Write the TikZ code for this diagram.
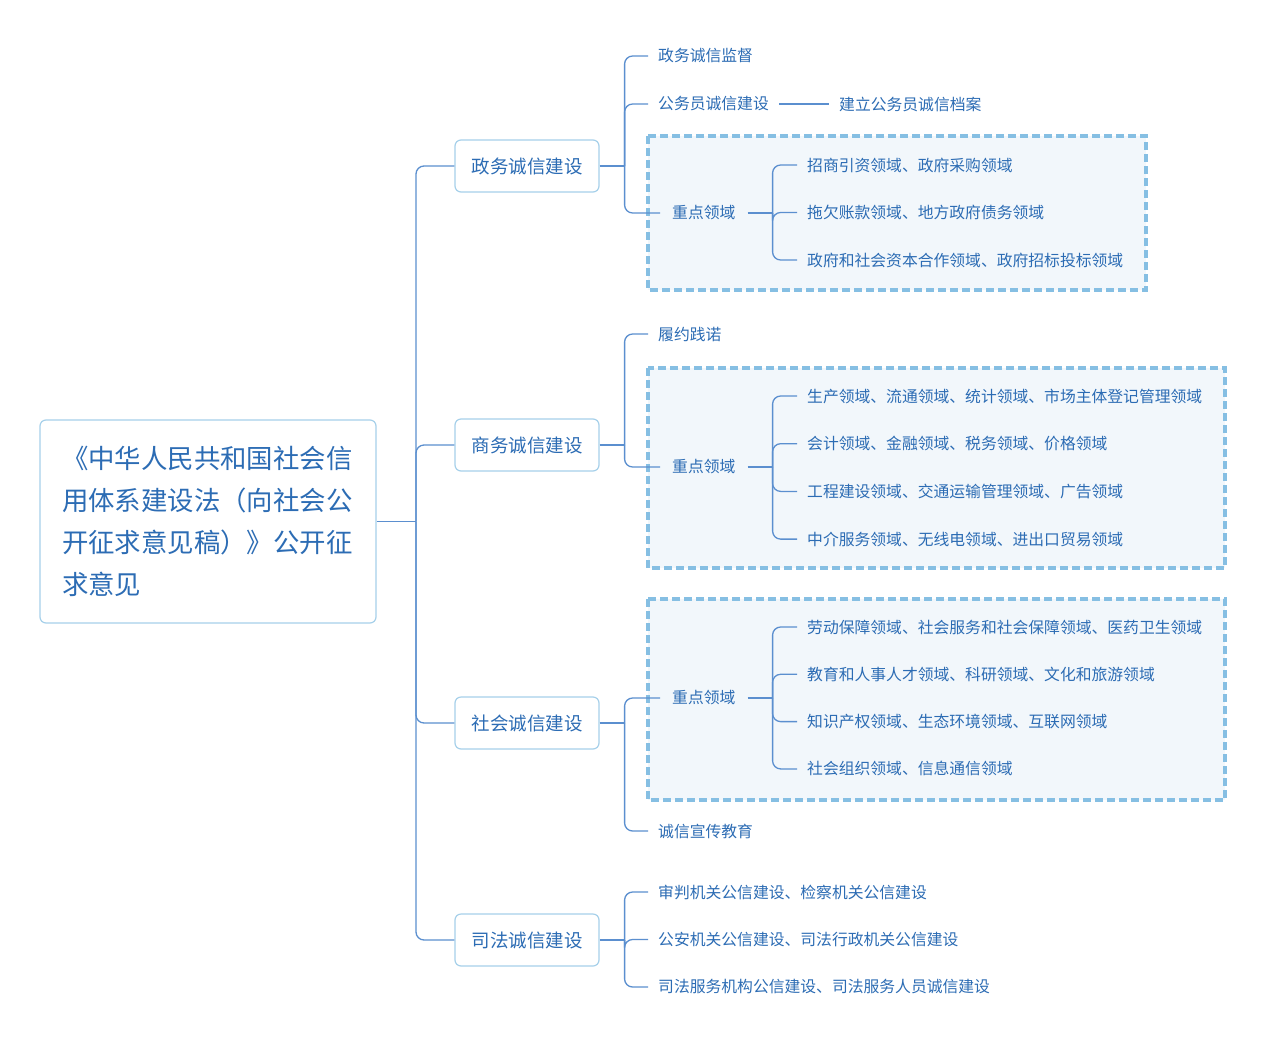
\documentclass[tikz,border=0pt]{standalone}
\usepackage{fontspec}
\setmainfont{Noto Sans CJK SC}
\usetikzlibrary{positioning}
\definecolor{ink}{HTML}{2C6CB4}
\definecolor{wire}{HTML}{5B8FCF}
\definecolor{frame}{HTML}{A6D0EA}
\definecolor{zonefill}{HTML}{F2F7FB}
\definecolor{zoneedge}{HTML}{86BFE3}

\begin{document}
\begin{tikzpicture}[
  x=1pt,y=-1pt,
  font=\fontsize{15.8}{18}\selectfont,text=ink,
  root/.style={draw=frame,line width=1.2pt,rounded corners=6pt,fill=white,minimum height=203pt,inner xsep=22pt,text width=292pt,align=left,font=\fontsize{26.4}{42}\selectfont},
  branch/.style={draw=frame,line width=1.2pt,rounded corners=6pt,fill=white,minimum width=144pt,minimum height=52pt,font=\fontsize{18.5}{20}\selectfont},
  leaf/.style={anchor=west,inner xsep=10pt,inner ysep=2pt},
  key/.style={anchor=west,inner xsep=12pt,inner ysep=2pt},
  link/.style={wire,line width=1.3pt,rounded corners=8pt},
  zone/.style={fill=zonefill,draw=zoneedge,dash pattern=on 8pt off 4pt}
]
\useasboundingbox[fill=white] (0,0) rectangle (1267,1045);

% dashed groups
\draw[zone,line width=3.2pt] (648,136) rectangle (1146,290);
\draw[zone,line width=3.2pt] (648,368) rectangle (1225,568);
\draw[zone,line width=3.2pt] (648,599) rectangle (1225,800);

% root and branches
\node[root] (root) at (208,521.5) {《中华人民共和国社会信\\用体系建设法（向社会公\\开征求意见稿）》公开征\\求意见};
\node[branch] (gov) at (527,166) {政务诚信建设};
\node[branch] (biz) at (527,445) {商务诚信建设};
\node[branch] (soc) at (527,723) {社会诚信建设};
\node[branch] (jud) at (527,940) {司法诚信建设};

\coordinate (hub) at (416,521.5);
\draw[link] (root.east) -- (hub);
\foreach \b in {gov,biz,soc,jud} {
  \coordinate (\b j) at ([xshift=25pt]\b.east);
  \draw[link] (hub) |- (\b.west);
  \draw[link] (\b.east) -- (\b j);
}

% gov
\node[leaf] (gov1) at (648,56) {政务诚信监督};
\node[leaf] (gov2) at (648,104) {公务员诚信建设};
\node[leaf,right=50pt of gov2] (gov2a) {建立公务员诚信档案};
\node[key] (govk) at (660,213) {重点领域};
\draw[wire,line width=1.3pt] (gov2.east) -- (gov2a.west);
\foreach \n in {gov1,gov2,govk} \draw[link] (govj) |- (\n.west);
\coordinate (govkj) at ([xshift=25pt]govk.east);
\draw[link] (govk.east) -- (govkj);
\foreach \txt [count=\i] in {招商引资领域、政府采购领域,拖欠账款领域、地方政府债务领域,政府和社会资本合作领域、政府招标投标领域} {
  \node[leaf] (govk\i) at (797,165+47.5*\i-47.5) {\txt};
  \draw[link] (govkj) |- (govk\i.west);
}

% biz
\node[leaf] (biz1) at (648,334) {履约践诺};
\node[key] (bizk) at (660,467) {重点领域};
\foreach \n in {biz1,bizk} \draw[link] (bizj) |- (\n.west);
\coordinate (bizkj) at ([xshift=25pt]bizk.east);
\draw[link] (bizk.east) -- (bizkj);
\foreach \txt [count=\i] in {生产领域、流通领域、统计领域、市场主体登记管理领域,会计领域、金融领域、税务领域、价格领域,工程建设领域、交通运输管理领域、广告领域,中介服务领域、无线电领域、进出口贸易领域} {
  \node[leaf] (bizk\i) at (797,396+47.7*\i-47.7) {\txt};
  \draw[link] (bizkj) |- (bizk\i.west);
}

% soc
\node[key] (sock) at (660,698) {重点领域};
\node[leaf] (soc2) at (648,831) {诚信宣传教育};
\foreach \n in {sock,soc2} \draw[link] (socj) |- (\n.west);
\coordinate (sockj) at ([xshift=25pt]sock.east);
\draw[link] (sock.east) -- (sockj);
\foreach \txt [count=\i] in {劳动保障领域、社会服务和社会保障领域、医药卫生领域,教育和人事人才领域、科研领域、文化和旅游领域,知识产权领域、生态环境领域、互联网领域,社会组织领域、信息通信领域} {
  \node[leaf] (sock\i) at (797,627+47.3*\i-47.3) {\txt};
  \draw[link] (sockj) |- (sock\i.west);
}

% jud
\foreach \txt [count=\i] in {审判机关公信建设、检察机关公信建设,公安机关公信建设、司法行政机关公信建设,司法服务机构公信建设、司法服务人员诚信建设} {
  \node[leaf] (jud\i) at (648,892+47.5*\i-47.5) {\txt};
  \draw[link] (judj) |- (jud\i.west);
}
\end{tikzpicture}
\end{document}
